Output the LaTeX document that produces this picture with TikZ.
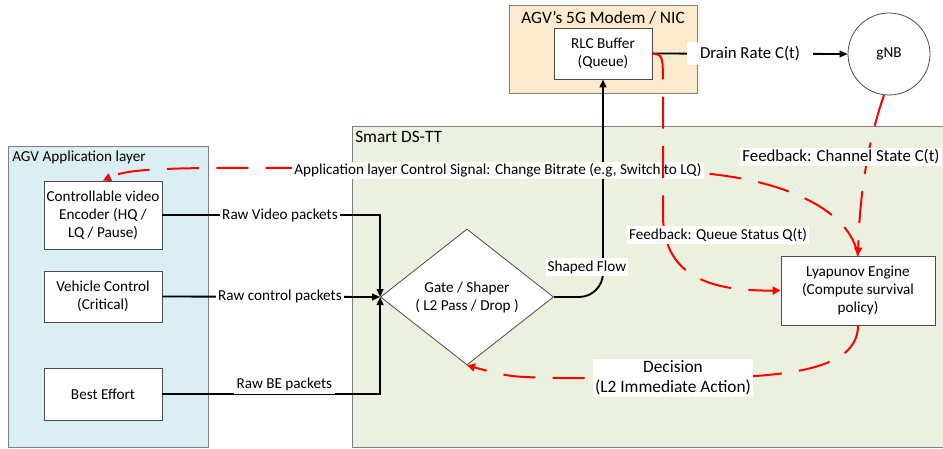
\documentclass[tikz,border=0pt]{standalone}
\usepackage{fontspec}
\setmainfont{Carlito}
\usetikzlibrary{positioning,shapes.geometric,arrows.meta}
\definecolor{appfill}{HTML}{DBEEF4}
\definecolor{ttfill}{HTML}{EBF1DE}
\definecolor{nicfill}{HTML}{FCEACC}
\definecolor{frame}{HTML}{7F7F7F}

\begin{document}
\begin{tikzpicture}[x=0.75pt,y=-0.75pt,
  every node/.style={font=\fontsize{11.4}{13.5}\selectfont},
  mid/.style={font=\fontsize{12.6}{15}\selectfont},
  big/.style={font=\fontsize{13}{15}\selectfont},
  layer/.style={draw=frame,line width=0.6pt},
  blk/.style={draw=black!70,fill=white,align=center,inner sep=2pt,line width=0.6pt},
  lbl/.style={fill=white,text=black,inner sep=1.5pt,align=center},
  flow/.style={line width=1.4pt,-{Triangle[length=6pt,width=5pt]}},
  sig/.style={red,line width=1.5pt,dash pattern=on 24pt off 13pt,-{Triangle[length=6pt,width=6pt]}}]
\useasboundingbox (0,0) rectangle (943,449);

% layers
\draw[layer,fill=appfill] (8,146) rectangle (208,447);
\draw[layer,fill=ttfill] (352,126) rectangle (960,447);
\draw[layer,fill=nicfill] (509,5) rectangle (697,93);
\node[anchor=west,inner sep=0] (applbl) at (12,157) {AGV Application layer};
\node[big,anchor=west,inner sep=0] (ttlbl) at (355,137) {Smart DS-TT};
\node[big,inner sep=0] (niclbl) at (603,18) {AGV's 5G Modem / NIC};

% blocks
\node[blk,minimum width=88.5pt,minimum height=51pt] (enc) at (103,215) {Controllable video\\Encoder (HQ /\\LQ / Pause)};
\node[blk,minimum width=88.5pt,minimum height=38.25pt] (veh) at (103,296.5) {Vehicle Control\\(Critical)};
\node[blk,minimum width=88.5pt,minimum height=39pt] (be) at (103,394) {Best Effort};
\node[blk,diamond,minimum width=129.75pt,minimum height=102pt,inner sep=0] (gate) at (467,297) {Gate / Shaper\\( L2 Pass / Drop )};
\node[blk,minimum width=73.5pt,minimum height=38.25pt] (rlc) at (603,53.5) {RLC Buffer\\(Queue)};
\node[blk,circle,minimum size=61.5pt] (gnb) at (889,54) {gNB};
\node[blk,minimum width=115.5pt,minimum height=51.75pt] (lya) at (858,290.5) {Lyapunov Engine\\(Compute survival\\policy)};

% data path
\draw[flow] (enc.east) -| node[lbl,pos=0.27]{Raw Video packets} (gate.west);
\draw[flow] (veh.east) -- node[lbl,pos=0.54]{Raw control packets} (gate.west);
\draw[flow] (be.east) -| node[lbl,pos=0.28,yshift=7pt,inner sep=2pt]{Raw BE packets} (gate.west);
\draw[flow,rounded corners=18pt] (gate.east) -| (rlc.south);
\node[lbl] (shp) at (587,267) {Shaped Flow};
\draw[flow] (rlc.east) -- node[lbl,mid,inner xsep=10pt,inner ysep=3pt]{Drain Rate C(t)} (gnb.west);

% control loop
\draw[sig] (lya.north) .. controls (850,210) and (785,180) .. (700,173)
  -- node[lbl]{Application layer Control Signal: Change Bitrate (e.g, Switch to LQ)} (296,168)
  .. controls (150,167) and (125,170) .. (enc.north);
\draw[sig] (rlc.east) .. controls (663,55) .. (663,90) -- (663,215)
  .. controls (663,282) and (720,291) .. (lya.west);
\node[lbl] (qlbl) at (718,235) {Feedback: Queue Status Q(t)};
\draw[sig] (gnb.-97) .. controls (872,130) and (860,180) .. (lya.north);
\node[lbl,mid] (clbl) at (841,157) {Feedback: Channel State C(t)};
\draw[sig] (lya.south) .. controls (858,366) and (800,377) .. (700,378) -- (560,378)
  .. controls (510,377) .. (gate.south);
\node[lbl,big] (dlbl) at (673,378) {Decision\\(L2 Immediate Action)};
\end{tikzpicture}
\end{document}
